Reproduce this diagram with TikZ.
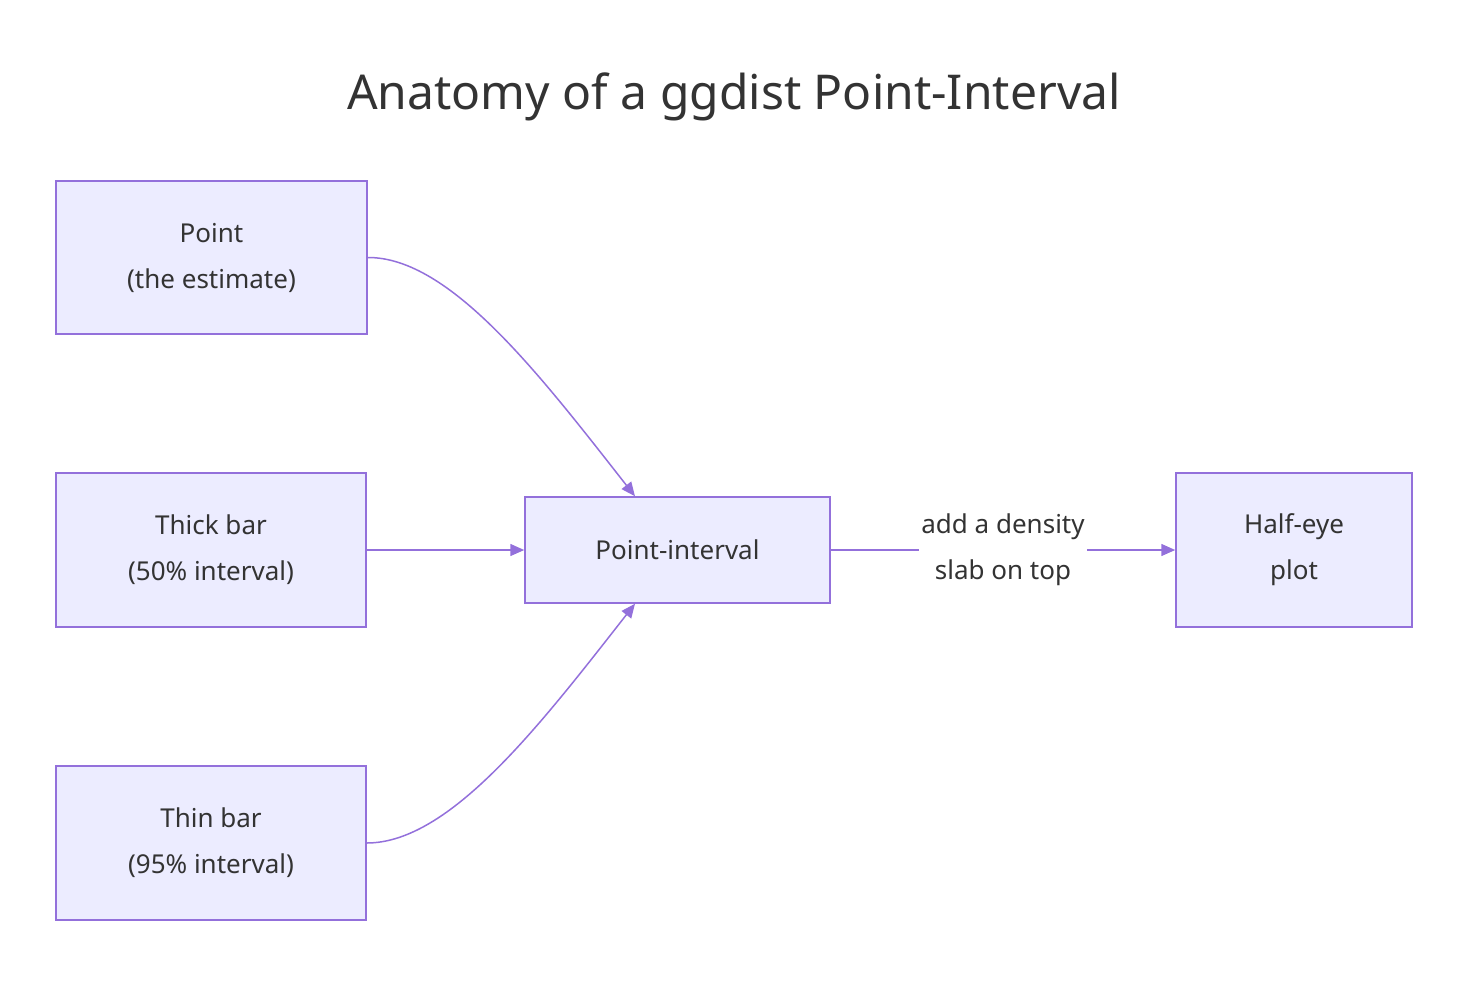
\documentclass[tikz,border=0pt]{standalone}
\usepackage{fontspec}
\setmainfont{Noto Sans}
\usetikzlibrary{arrows.meta}
\definecolor{nfill}{HTML}{ECECFF}
\definecolor{nstroke}{HTML}{9370DB}
\definecolor{txt}{HTML}{333333}
\begin{document}
\begin{tikzpicture}[x=1pt,y=-1pt,
  box/.style={draw=nstroke,fill=nfill,line width=1.5pt,text=txt,align=center,font=\fontsize{26}{46}\selectfont,inner sep=0pt},
  edge/.style={draw=nstroke,line width=1.5pt,-{Triangle[length=14pt,width=12pt]}}]
\useasboundingbox (0,0) rectangle (1484,986);
\node[text=txt,font=\fontsize{48}{56}\selectfont] (title) at (734,97) {Anatomy of a ggdist Point-Interval};
\node[box,minimum width=311pt,minimum height=153pt] (p) at (211.5,257.5) {Point\\(the estimate)};
\node[box,minimum width=310pt,minimum height=154pt] (tk) at (211,550) {Thick bar\\(50\% interval)};
\node[box,minimum width=310pt,minimum height=154pt] (tn) at (211,843) {Thin bar\\(95\% interval)};
\node[box,minimum width=305pt,minimum height=106pt] (pi) at (677.5,550) {Point-interval};
\node[box,minimum width=236pt,minimum height=154pt] (he) at (1294,550) {Half-eye\\plot};
\draw[edge] (p.east) .. controls (450,257) and (540,375) .. (pi.north -| 635,0);
\draw[edge] (tn.east) .. controls (450,843) and (540,725) .. (pi.south -| 635,0);
\draw[edge] (tk.east) -- (pi.west);
\draw[edge] (pi.east) -- node[fill=white,text=txt,align=center,font=\fontsize{26}{46}\selectfont,inner sep=2pt]{add a density\\slab on top} (he.west);
\end{tikzpicture}
\end{document}
